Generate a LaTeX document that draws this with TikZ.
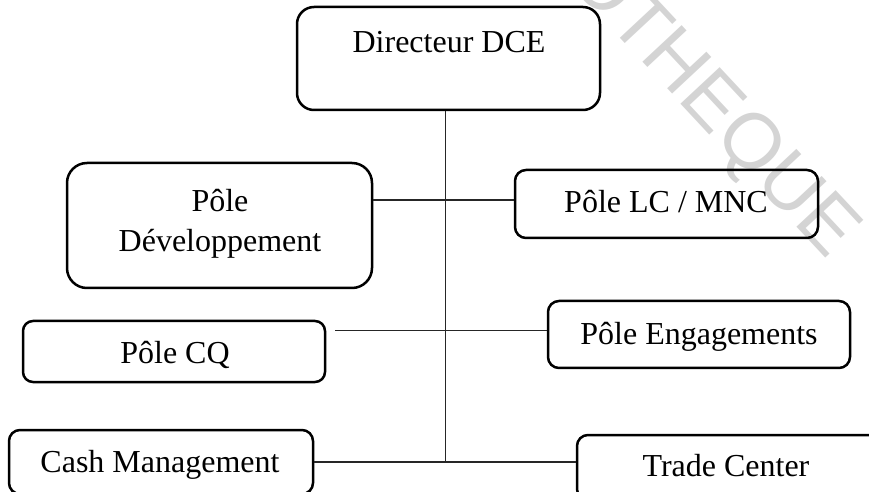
\documentclass[tikz,border=0pt]{standalone}
\usepackage{fontspec}
\setmainfont{Liberation Serif}
\newfontfamily\wmfont{Liberation Sans}
\usetikzlibrary{calc}

\tikzset{
  unit/.style={rectangle, draw=black, line width=1.25pt, inner sep=0pt, fill=none},
  lbl/.style={anchor=base, inner sep=0pt, font=\fontsize{16}{20}\selectfont},
  conn/.style={draw=black!85, line width=0.9pt},
  stamp/.style={text=black!17, font=\wmfont\fontsize{39}{39}\selectfont, rotate=-47, inner sep=0pt}
}

\begin{document}
\begin{tikzpicture}[x=0.5pt, y=-0.5pt]
  \useasboundingbox (0,0) rectangle (869,492);
  \clip (0,0) rectangle (869,492);

  % faint background stamp
  \node[stamp, anchor=base east] (stamp) at (828,261) {BIBLIOTHEQUE};

  % organisation units
  \node[unit, rounded corners=8.5pt, minimum width=151.5pt, minimum height=51.5pt] (dir)   at (448.5,58.5) {};
  \node[unit, rounded corners=10pt,  minimum width=152.5pt, minimum height=62.5pt] (dev)   at (219.5,225.5) {};
  \node[unit, rounded corners=5.5pt, minimum width=151.5pt, minimum height=34pt]   (lc)    at (666.5,204) {};
  \node[unit, rounded corners=5pt,   minimum width=151pt,   minimum height=30.5pt] (cq)    at (174,351.5) {};
  \node[unit, rounded corners=5.5pt, minimum width=151pt,   minimum height=33.5pt] (eng)   at (699,334.5) {};
  \node[unit, rounded corners=5.5pt, minimum width=152pt,   minimum height=32pt]   (cash)  at (161,462) {};
  \node[unit, rounded corners=5.5pt, minimum width=151.5pt, minimum height=32.5pt] (trade) at (728.5,467.5) {};

  % unit titles
  \node[lbl] (dirT)   at (449,53)  {Directeur DCE};
  \node[lbl, anchor=center, align=center] (devT) at (220,223.5) {Pôle\\Développement};
  \node[lbl] (lcT)    at (666,213) {Pôle LC / MNC};
  \node[lbl] (cqT)    at (175,364) {Pôle CQ};
  \node[lbl] (engT)   at (699,344) {Pôle Engagements};
  \node[lbl] (cashT)  at (160,473) {Cash Management};
  \node[lbl] (tradeT) at (726,476) {Trade Center};

  % reporting lines
  \coordinate (ja) at ($(lc.west)+(0,-4)$);
  \coordinate (jb) at ($(eng.west)+(0,-4)$);
  \coordinate (trunk) at ($(dir.south)+(-3,0)$);
  \draw[conn] (trunk) -- (trunk |- cash.east);
  \draw[conn] (dev.east |- ja) -- (ja);
  \draw[conn] ($(cq.east |- jb)+(9,0)$) -- (jb);
  \draw[conn] (cash.east) -- (cash.east -| trade.west);
\end{tikzpicture}
\end{document}
